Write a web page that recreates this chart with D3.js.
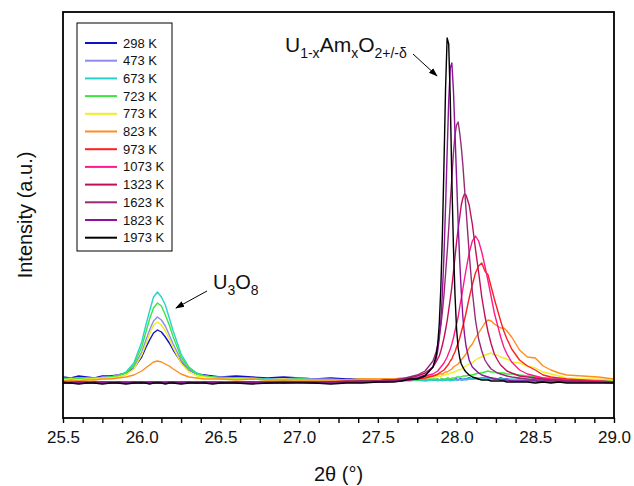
<!DOCTYPE html>
<html>
<head>
<meta charset="utf-8">
<script src="https://cdn.jsdelivr.net/npm/d3@7"></script>
<style>
  body { margin: 0; background: #fff; }
  text { font-family: Arial, "Liberation Sans", sans-serif; }
</style>
</head>
<body>
<div id="maViz"></div>
<script>
// Dimensions et marges du graph
const margin = {top: 12, right: 20, bottom: 68, left: 63};
const width = 634 - margin.left - margin.right;
const height = 486 - margin.top - margin.bottom;

// DONNEES -------------------------------------------------
// angle 2theta (°)
const twoTheta = [
  25.50, 25.55, 25.60, 25.65, 25.70, 25.75, 25.80,
  25.85, 25.90, 25.95, 26.00, 26.025, 26.05, 26.075, 26.10, 26.125, 26.15, 26.175, 26.20, 26.25, 26.30, 26.35, 26.40, 26.45,
  26.50, 26.60, 26.70, 26.80, 26.90, 27.00, 27.10, 27.20, 27.30, 27.40, 27.50, 27.55, 27.60, 27.65, 27.70, 27.75, 27.80, 27.85,
  27.87, 27.88, 27.89, 27.90, 27.91, 27.92, 27.93, 27.94, 27.95, 27.96, 27.97, 27.98, 27.99, 28.00, 28.01, 28.02, 28.03, 28.04,
  28.05, 28.06, 28.08, 28.10, 28.12, 28.14, 28.16, 28.18, 28.20, 28.22, 28.24, 28.26, 28.28, 28.30, 28.32, 28.35,
  28.40, 28.45, 28.50, 28.55, 28.60, 28.65, 28.70, 28.80, 28.90, 29.00
];

// intensités (u.a.), une liste par température
const i298 = [6,5,7,6,5,7,7,8,10,15,26,35,43,50,53,51,46,40,33,21,13,9,8,7,
  6,7,6,5,6,5,4,5,4,4,3,4,3,3,4,3,3,3,
  3,4,3,3,4,3,3,4,3,4,3,3,4,4,3,4,4,3,4,4,5,4,5,4,5,5,4,5,4,4,5,4,4,3,
  4,3,4,3,3,4,3,3,2,3];
const i473 = [5,4,5,5,4,6,6,8,10,16,31,42,53,62,66,63,57,48,39,23,13,9,7,6,
  6,5,5,4,4,5,4,4,3,4,3,4,3,3,3,3,3,3,
  3,3,3,4,3,3,3,3,4,3,3,3,4,3,3,4,3,4,4,3,4,4,4,5,4,4,5,4,4,4,4,3,4,3,
  3,3,3,4,3,3,3,3,2,2];
const i673 = [4,5,4,5,5,5,6,7,11,20,41,57,72,86,91,86,78,65,52,29,16,10,7,6,
  5,5,4,4,3,4,3,3,2,3,2,3,2,3,2,3,2,3,
  3,2,3,3,2,3,3,3,3,2,3,3,3,3,4,3,3,4,3,4,4,4,5,4,5,5,5,4,5,4,4,4,3,4,
  3,3,3,2,3,2,2,3,2,2];
const i723 = [4,4,5,4,5,5,6,7,10,18,36,50,64,75,80,77,68,58,46,26,15,9,7,6,
  5,4,4,3,3,4,3,3,3,2,3,3,3,3,4,3,4,4,
  4,4,3,4,4,4,4,5,5,4,5,5,5,6,6,6,6,7,7,7,8,8,9,10,10,11,12,11,11,10,10,10,9,9,
  8,7,6,5,5,4,4,3,3,3];
const i773 = [3,4,3,4,4,5,5,6,8,14,28,38,49,58,61,58,52,44,35,20,11,7,6,5,
  4,4,4,3,4,3,3,3,3,4,4,4,4,4,4,5,5,6,
  6,7,7,6,8,8,8,9,9,10,10,11,11,12,13,13,14,15,16,17,19,20,23,25,26,28,29,30,28,28,26,25,24,21,
  20,17,15,11,9,7,5,4,4,3];
const i823 = [2,3,2,3,3,4,4,5,6,8,12,15,18,21,22,21,19,17,14,9,6,5,4,4,
  4,3,4,3,3,3,3,3,3,4,4,4,4,5,5,5,6,7,
  8,8,9,9,9,10,11,11,12,13,14,16,17,18,19,21,23,25,27,29,35,39,45,50,55,60,63,62,59,57,55,55,52,46,
  33,26,25,17,13,10,8,7,6,4];
const i973 = [1,0,1,1,0,1,0,1,1,0,1,1,0,1,1,0,1,0,1,1,0,1,0,1,
  1,0,1,1,0,1,1,0,1,1,2,2,2,3,3,4,5,7,
  8,9,10,11,12,13,15,17,19,22,24,28,31,36,40,45,51,57,63,70,85,98,110,117,120,112,108,96,84,73,62,52,44,34,
  23,17,13,8,6,5,4,3,2,1];
const i1073 = [0,1,0,1,1,0,1,0,1,1,0,1,1,0,1,0,1,1,0,1,0,1,1,0,
  1,1,0,1,1,1,0,1,1,1,2,2,3,3,4,5,7,9,
  11,12,14,16,18,20,23,26,30,34,39,45,52,59,66,76,85,94,104,113,130,142,147,142,131,117,102,86,70,58,46,36,29,21,
  13,9,7,5,4,4,3,2,2,1];
const i1323 = [1,0,0,1,0,1,1,0,1,0,1,0,1,1,0,1,0,1,0,1,1,0,1,0,
  0,1,1,0,1,1,1,1,2,2,2,3,3,4,5,7,10,16,
  21,24,27,32,38,45,53,62,73,84,96,111,126,141,154,166,178,185,189,188,178,159,134,111,86,67,51,39,29,23,18,15,12,10,
  7,6,5,4,3,3,2,2,1,1];
const i1623 = [0,1,1,0,1,0,1,1,0,1,0,1,0,1,1,0,1,0,1,0,1,1,0,1,
  1,0,1,1,1,1,1,1,1,2,2,3,3,4,6,8,12,22,
  31,38,47,57,71,88,109,130,154,181,205,230,248,258,261,250,236,218,196,174,130,92,63,44,32,23,18,14,12,10,9,8,7,6,
  5,4,3,3,2,2,2,1,1,1];
const i1823 = [1,0,1,0,1,1,0,1,0,1,1,0,1,0,1,1,0,1,1,0,1,0,1,1,
  0,1,1,0,1,1,0,1,1,1,1,1,2,2,3,5,8,16,
  24,32,44,62,90,128,176,230,282,315,320,293,250,205,160,122,91,66,49,37,23,16,13,10,8,7,6,5,4,4,3,3,3,2,
  2,2,2,1,1,1,1,1,1,0];
const i1973 = [0,0,-1,0,0,-1,0,0,-1,0,0,0,-1,0,0,0,-1,0,0,-1,0,0,0,-1,
  0,0,-1,0,0,0,0,-1,0,0,1,1,1,2,4,4,7,16,
  27,38,59,95,149,219,294,345,339,284,203,137,88,54,35,25,19,16,13,11,8,6,5,4,3,3,3,2,2,2,2,2,1,1,
  1,1,0,1,0,1,0,0,0,0];

const temperatures = ["298 K", "473 K", "673 K", "723 K", "773 K", "823 K", "973 K", "1073 K", "1323 K", "1623 K", "1823 K", "1973 K"];
const couleurs = ["#1010c8", "#8c8cf0", "#28d2cd", "#3ce63c", "#eeee22", "#ff8c1e", "#ff2020", "#ff1a8c", "#c0105a", "#962a78", "#8c1499", "#000000"];
const intensites = [i298, i473, i673, i723, i773, i823, i973, i1073, i1323, i1623, i1823, i1973];

const xTicks = [25.5, 26.0, 26.5, 27.0, 27.5, 28.0, 28.5, 29.0];
const xMinor = [25.625, 25.75, 25.875, 26.125, 26.25, 26.375, 26.625, 26.75, 26.875, 27.125, 27.25, 27.375,
                27.625, 27.75, 27.875, 28.125, 28.25, 28.375, 28.625, 28.75, 28.875];

// table pour d3 : une série par température
const series = temperatures.map((t, k) => ({
  nom: t,
  couleur: couleurs[k],
  points: twoTheta.map((a, j) => ({a: a, v: intensites[k][j]}))
}));

// CANEVAS SVG
const svg = d3.select("#maViz")
  .append("svg")
    .attr("width", width + margin.left + margin.right)
    .attr("height", height + margin.top + margin.bottom)
  .append("g")
    .attr("transform", "translate(" + margin.left + "," + margin.top + ")");

// échelles
const x = d3.scaleLinear().domain([25.5, 29.0]).range([0, width]);
const y = d3.scaleLinear().domain([-35, 371]).range([height, 0]);

svg.append("defs").append("clipPath").attr("id", "clip")
  .append("rect").attr("width", width).attr("height", height);

// courbes
const ligne = d3.line().x(d => x(d.a)).y(d => y(d.v));
svg.append("g").attr("clip-path", "url(#clip)")
  .selectAll("path")
  .data(series)
  .join("path")
    .attr("d", d => ligne(d.points))
    .attr("fill", "none")
    .attr("stroke", d => d.couleur)
    .attr("stroke-width", 1.4)
    .attr("stroke-linejoin", "round");

// axe X (graduations majeures + mineures)
const axeX = svg.append("g")
  .attr("transform", "translate(0," + height + ")")
  .call(d3.axisBottom(x).tickValues(xTicks).tickFormat(d3.format(".1f")).tickSize(5).tickPadding(8));
axeX.select(".domain").remove();
axeX.selectAll("line").attr("stroke", "#000").attr("stroke-width", 1.4);
axeX.selectAll("text").style("font-size", "17px").attr("fill", "#111");

const axeMin = svg.append("g")
  .attr("transform", "translate(0," + height + ")")
  .call(d3.axisBottom(x).tickValues(xMinor).tickFormat("").tickSize(5));
axeMin.select(".domain").remove();
axeMin.selectAll("line").attr("stroke", "#000").attr("stroke-width", 1.4);

// cadre
svg.append("rect")
  .attr("width", width).attr("height", height)
  .attr("fill", "none").attr("stroke", "#000").attr("stroke-width", 1.8);

// titres des axes
svg.append("text")
  .attr("x", width / 2).attr("y", height + 63)
  .attr("text-anchor", "middle")
  .style("font-size", "20px").attr("fill", "#111")
  .text("2θ (°)");

svg.append("text")
  .attr("transform", "translate(" + (-31) + "," + (height / 2) + ") rotate(-90)")
  .attr("text-anchor", "middle")
  .style("font-size", "20px").attr("fill", "#111")
  .text("Intensity (a.u.)");

// légende
const leg = svg.append("g").attr("transform", "translate(14,11)");
leg.append("rect")
  .attr("width", 95).attr("height", 228)
  .attr("fill", "#fff").attr("stroke", "#000").attr("stroke-width", 1);
const pas = 17.7;
leg.selectAll("line.cle")
  .data(series)
  .join("line")
    .attr("class", "cle")
    .attr("x1", 8).attr("x2", 40)
    .attr("y1", (d, i) => 20 + i * pas).attr("y2", (d, i) => 20 + i * pas)
    .attr("stroke", d => d.couleur).attr("stroke-width", 2);
leg.selectAll("text")
  .data(series)
  .join("text")
    .attr("x", 46)
    .attr("y", (d, i) => 20 + i * pas)
    .attr("dy", "0.35em")
    .style("font-size", "13px").attr("fill", "#111")
    .text(d => d.nom);

// flèches d'annotation
svg.select("defs").append("marker")
  .attr("id", "fleche")
  .attr("viewBox", "0 0 10 10").attr("refX", 9).attr("refY", 5)
  .attr("markerWidth", 9).attr("markerHeight", 9)
  .attr("orient", "auto")
  .append("path").attr("d", "M0,1.5 L10,5 L0,8.5 Z").attr("fill", "#000");

// U1-xAmxO2+/-δ
const t1 = svg.append("text").attr("x", 222).attr("y", 40).style("font-size", "21px").attr("fill", "#111");
t1.append("tspan").text("U");
t1.append("tspan").attr("dy", 6).style("font-size", "14px").text("1-x");
t1.append("tspan").attr("dy", -6).text("Am");
t1.append("tspan").attr("dy", 6).style("font-size", "14px").text("x");
t1.append("tspan").attr("dy", -6).text("O");
t1.append("tspan").attr("dy", 6).style("font-size", "14px").text("2+/-δ");
svg.append("line")
  .attr("x1", 350).attr("y1", 42).attr("x2", 374).attr("y2", 64)
  .attr("stroke", "#000").attr("stroke-width", 1)
  .attr("marker-end", "url(#fleche)");

// U3O8
const t2 = svg.append("text").attr("x", 150).attr("y", 277).style("font-size", "20px").attr("fill", "#111");
t2.append("tspan").text("U");
t2.append("tspan").attr("dy", 6).style("font-size", "14px").text("3");
t2.append("tspan").attr("dy", -6).text("O");
t2.append("tspan").attr("dy", 6).style("font-size", "14px").text("8");
svg.append("line")
  .attr("x1", 144).attr("y1", 279).attr("x2", 113).attr("y2", 296)
  .attr("stroke", "#000").attr("stroke-width", 1)
  .attr("marker-end", "url(#fleche)");
</script>
</body>
</html>
